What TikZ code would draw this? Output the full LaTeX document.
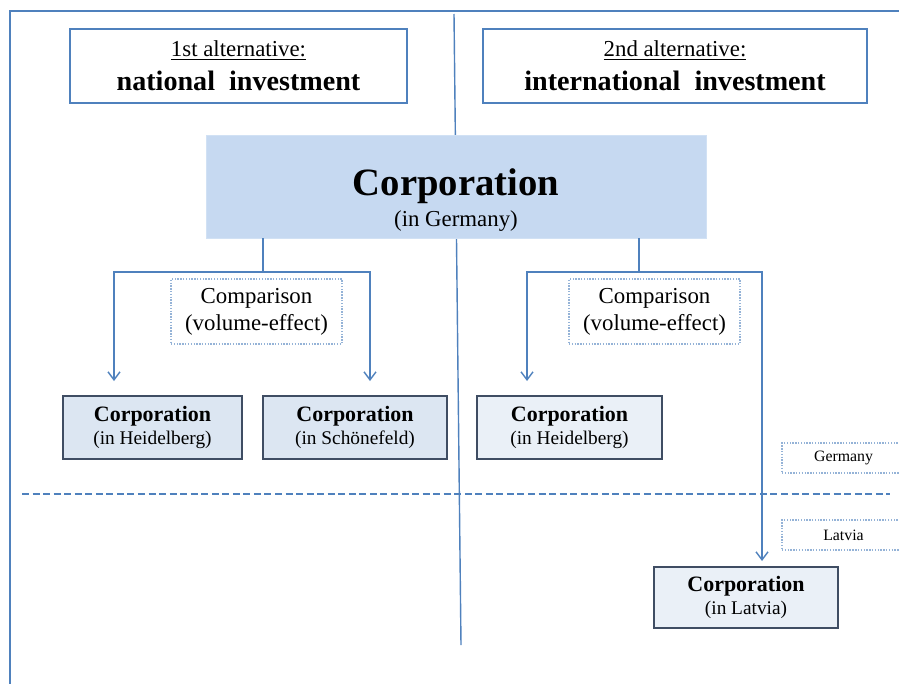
\documentclass[tikz,border=0pt]{standalone}
\usepackage{fontspec}
\setmainfont{Liberation Serif}
\usetikzlibrary{arrows.meta}
\definecolor{lineblue}{HTML}{4F81BD}
\definecolor{corpfill}{HTML}{C6D9F1}
\definecolor{subfill}{HTML}{DCE6F2}
\definecolor{subdraw}{HTML}{3F4D63}
\definecolor{dotblue}{HTML}{95B3D7}
\begin{document}
\begin{tikzpicture}[
  x=0.02cm, y=-0.02cm,
  alt/.style={draw=lineblue, line width=0.8pt, minimum height=1.48cm, inner sep=0pt,
              align=center},
  corp/.style={fill=corpfill, draw=corpfill!80!white, minimum width=10cm, minimum height=2.06cm,
               align=center, inner sep=0pt},
  sub/.style={draw=subdraw, fill=subfill, line width=0.9pt, minimum height=1.26cm,
              align=center, inner sep=0pt},
  cmp/.style={draw=dotblue, dash pattern=on 0.8pt off 0.8pt, line width=0.6pt, minimum width=3.42cm,
              minimum height=1.3cm, align=center, inner sep=0pt, font=\fontsize{13}{14}\selectfont},
  tag/.style={draw=dotblue, dash pattern=on 0.8pt off 0.8pt, line width=0.6pt, minimum width=2.46cm,
              minimum height=0.6cm, inner sep=0pt, font=\fontsize{9}{10}\selectfont},
  ln/.style={draw=lineblue, line width=0.8pt},
  arr/.style={ln, -{Straight Barb[length=1.6mm, width=2.4mm]}}
]
\clip (0,0) rectangle (899,683);

% frame and dividers
\draw[ln, line width=1.1pt] (10,700) -- (10,11) -- (920,11);
\draw[ln] (454,14) -- (461,645);
\draw[ln, dash pattern=on 4pt off 2pt] (22,494) -- (890,494);

% headings
\node[alt, minimum width=6.74cm] (alt1) at (238.5,66)
  {{\fontsize{13}{15}\selectfont\underline{1st alternative:}}\\[5pt]
   {\fontsize{16}{18}\selectfont\bfseries national~~investment}};
\node[alt, minimum width=7.68cm] (alt2) at (675,66)
  {{\fontsize{13}{15}\selectfont\underline{2nd alternative:}}\\[5pt]
   {\fontsize{16}{18}\selectfont\bfseries international~~investment}};

% parent corporation
\node[corp] (corp) at (456,186.5)
  {\rule{0pt}{31pt}{\fontsize{22}{26}\selectfont\bfseries Corporation}\\[3pt]
   {\fontsize{13}{15}\selectfont (in Germany)}};

% comparisons
\node[cmp] (cmp1) at (256.5,311.5) {Comparison\\[1.5pt](volume-effect)};
\node[cmp] (cmp2) at (654.5,311.5) {Comparison\\[1.5pt](volume-effect)};

% subsidiaries
\node[sub, minimum width=3.58cm] (heid1) at (152.5,427.5)
  {{\fontsize{12.5}{14}\selectfont\bfseries Corporation}\\[1pt]{\fontsize{11}{12}\selectfont (in Heidelberg)}};
\node[sub, minimum width=3.68cm] (schoen) at (355,427.5)
  {{\fontsize{12.5}{14}\selectfont\bfseries Corporation}\\[1pt]{\fontsize{11}{12}\selectfont (in Schönefeld)}};
\node[sub, minimum width=3.7cm, fill=subfill!60!white] (heid2) at (569.5,427.5)
  {{\fontsize{12.5}{14}\selectfont\bfseries Corporation}\\[1pt]{\fontsize{11}{12}\selectfont (in Heidelberg)}};
\node[sub, minimum width=3.68cm, minimum height=1.22cm, fill=subfill!60!white] (latv) at (746,597.5)
  {{\fontsize{12.5}{14}\selectfont\bfseries Corporation}\\[1pt]{\fontsize{11}{12}\selectfont (in Latvia)}};

% country tags
\node[tag] (de) at (843.5,458) {Germany};
\node[tag] (lv) at (843.5,535) {Latvia};

% connectors
\coordinate (b1) at (263,272);
\coordinate (b2) at (639,272);
\coordinate (e1) at (114,381);
\coordinate (e2) at (370,381);
\coordinate (e3) at (527,381);
\coordinate (e4) at (762,561);
\draw[ln] (corp.south -| b1) -- (b1);
\draw[ln] (corp.south -| b2) -- (b2);
\foreach \s/\t in {b1/e1, b1/e2, b2/e3, b2/e4}
  \draw[arr] (\s) -| (\t);
\end{tikzpicture}
\end{document}
